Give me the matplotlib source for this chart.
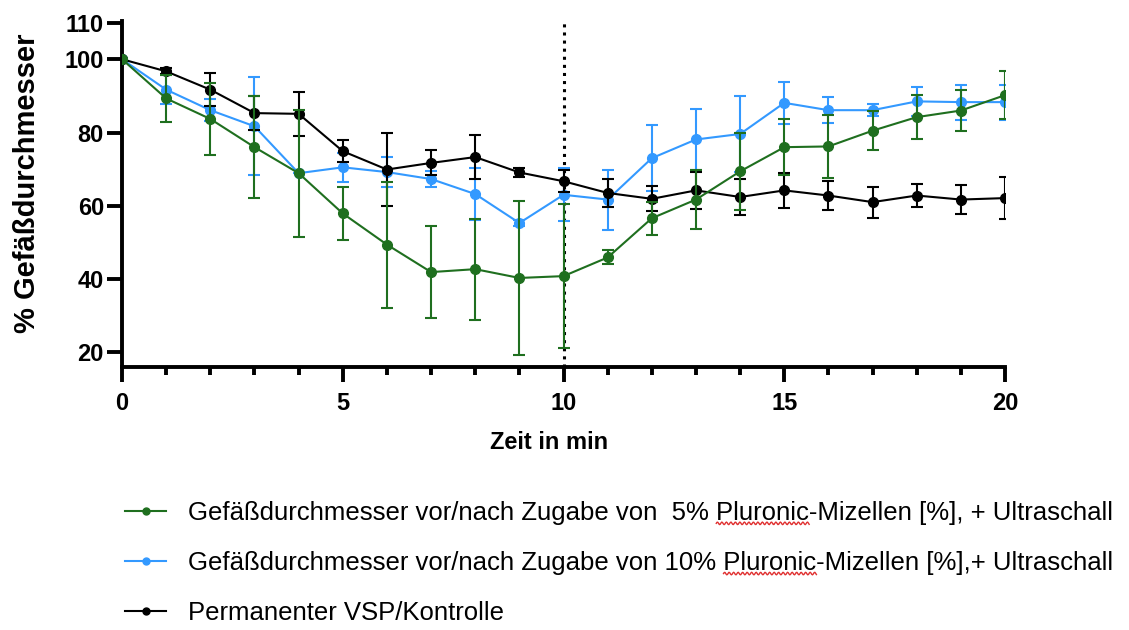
import numpy as np
import matplotlib
matplotlib.use("Agg")
import matplotlib.pyplot as plt
from matplotlib.lines import Line2D
from matplotlib.ticker import MultipleLocator
from matplotlib.transforms import IdentityTransform

plt.rcParams['font.family'] = ['Liberation Sans', 'DejaVu Sans']

# time points (min)
t = np.arange(0, 21)

# 5% Pluronic-Mizellen + Ultraschall
green_mean = [100, 89.3, 83.7, 76.0, 68.9, 57.9, 49.4, 41.9, 42.7, 40.3, 40.8,
              45.9, 56.6, 61.7, 69.4, 76.0, 76.2, 80.5, 84.2, 86.0, 90.2]
green_err = [0, 6.5, 9.8, 13.9, 17.3, 7.2, 17.2, 12.5, 13.8, 21.0, 19.6,
             1.9, 4.5, 8.0, 10.5, 7.7, 8.7, 5.3, 6.0, 5.5, 6.5]

# 10% Pluronic-Mizellen + Ultraschall
blue_mean = [100, 91.7, 86.1, 81.7, 68.9, 70.5, 69.2, 67.3, 63.2, 55.3, 63.0,
             61.7, 73.0, 78.1, 79.6, 88.1, 86.1, 86.1, 88.5, 88.3, 88.3]
blue_err = [0, 4.0, 3.0, 13.4, 0, 4.0, 4.0, 2.2, 7.0, 0.8, 7.2,
            8.2, 9.0, 8.4, 10.5, 5.7, 3.5, 1.6, 4.0, 4.8, 4.8]

# Permanenter VSP / Kontrolle
black_mean = [100, 96.7, 91.7, 85.3, 85.1, 74.9, 69.9, 71.7, 73.3, 69.1, 66.7,
              63.5, 61.9, 64.2, 62.4, 64.2, 62.8, 61.0, 62.8, 61.7, 62.1]
black_err = [0, 0.8, 4.5, 4.6, 6.0, 3.0, 10.0, 3.4, 6.0, 1.2, 3.0,
             3.8, 3.4, 5.0, 5.0, 4.7, 4.0, 4.2, 3.1, 4.0, 5.7]

labels = ['Gefäßdurchmesser vor/nach Zugabe von  5% Pluronic-Mizellen [%], + Ultraschall',
          'Gefäßdurchmesser vor/nach Zugabe von 10% Pluronic-Mizellen [%],+ Ultraschall',
          'Permanenter VSP/Kontrolle']

c_green = '#1f6f1f'
c_blue = '#3399ff'
c_black = '#000000'

fig = plt.figure(figsize=(11.29, 6.30), dpi=100)
ax = fig.add_axes([0.1081, 0.4175, 0.7821, 0.5495])

ax.axvline(10, color='black', ls=':', lw=2.2, zorder=1)

style = dict(marker='o', markersize=7, lw=1.5, elinewidth=1.5, capsize=4.3, capthick=1.5)
ax.errorbar(t, blue_mean, yerr=blue_err, color=c_blue, zorder=3, **style)
ax.errorbar(t, black_mean, yerr=black_err, color=c_black, zorder=4, **style)
ax.errorbar(t, green_mean, yerr=green_err, color=c_green, zorder=5, **style)

ax.set_xlim(0, 20)
ax.set_ylim(16, 110.5)
ax.set_yticks([20, 40, 60, 80, 100, 110])
ax.xaxis.set_major_locator(MultipleLocator(5))
ax.xaxis.set_minor_locator(MultipleLocator(1))

for s in ('top', 'right'):
    ax.spines[s].set_visible(False)
for s in ('left', 'bottom'):
    ax.spines[s].set_linewidth(2.8)
    ax.spines[s].set_capstyle('projecting')

ax.tick_params(axis='both', which='major', width=2.8, length=11, labelsize=17)
ax.tick_params(axis='x', which='minor', width=2.8, length=6)
ax.tick_params(axis='x', pad=7)
ax.tick_params(axis='y', pad=2)
for lab in ax.get_xticklabels() + ax.get_yticklabels():
    lab.set_fontweight('bold')

ax.set_xlabel('Zeit in min', fontsize=17, fontweight='bold')
ax.set_ylabel('% Gefäßdurchmesser', fontsize=21, fontweight='bold')
ax.xaxis.set_label_coords(0.484, -0.185)
ax.yaxis.set_label_coords(-0.092, 0.53)

handles = [Line2D([], [], color=c, marker='o', markersize=5, lw=1.5)
           for c in (c_green, c_blue, c_black)]
leg = fig.legend(handles, labels, loc='upper left', bbox_to_anchor=(0.111, 0.205),
                 frameon=False, fontsize=18.5, handlelength=1.6, handletextpad=0.85,
                 labelspacing=1.02, borderpad=0, borderaxespad=0)

# red spell-check squiggle under "Pluronic", as in the screenshot
fig.canvas.draw()
r = fig.canvas.get_renderer()
for txt in leg.get_texts()[:2]:
    s = txt.get_text()
    i = s.index('Pluronic')
    bb = txt.get_window_extent(r)
    prop = txt.get_fontproperties()
    w0 = r.get_text_width_height_descent(s[:i], prop, ismath=False)[0]
    w1 = r.get_text_width_height_descent(s[:i + 8], prop, ismath=False)[0]
    xs = np.linspace(bb.x0 + w0, bb.x0 + w1, 120)
    ys = bb.y0 + 1.5 + 1.3 * np.sin((xs - xs[0]) * 2 * np.pi / 4.5)
    fig.add_artist(Line2D(xs, ys, color='#e03030', lw=1.0, transform=IdentityTransform()))

fig.savefig('out.png', dpi=100)
